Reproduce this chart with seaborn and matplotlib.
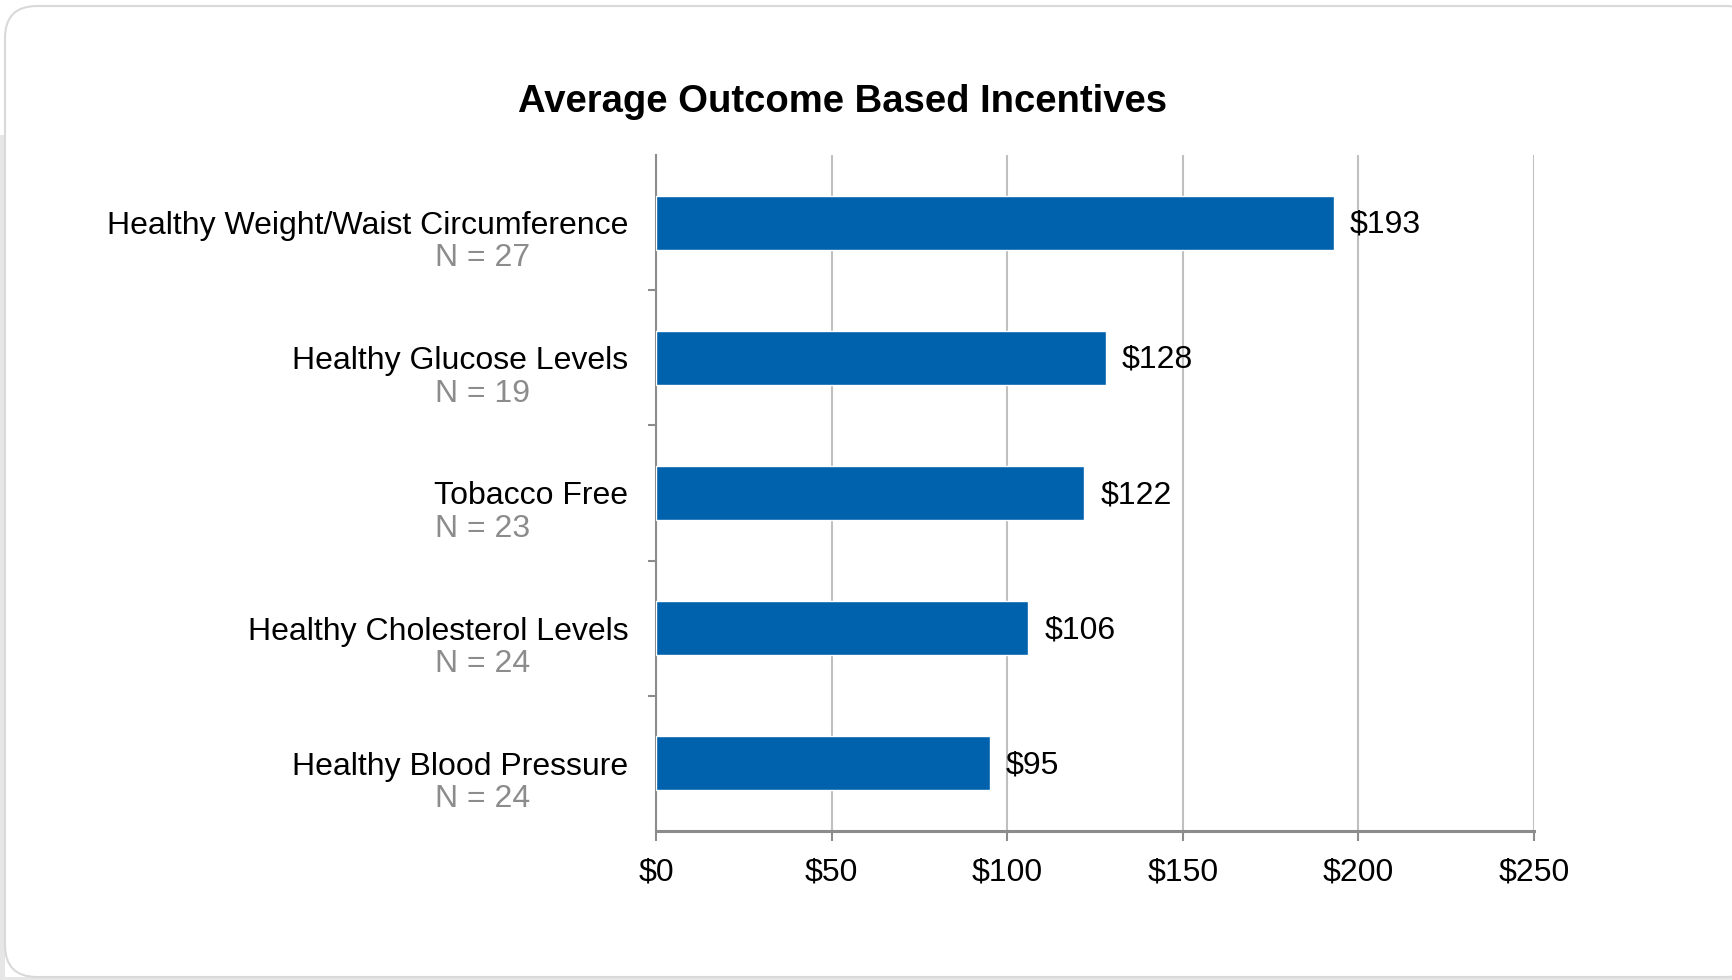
import matplotlib
matplotlib.use("Agg")
import matplotlib.pyplot as plt
from matplotlib.patches import FancyBboxPatch, Rectangle
from matplotlib.transforms import blended_transform_factory
import seaborn as sns
import pandas as pd

# Chart data
categories = [
    "Healthy Weight/Waist Circumference",
    "Healthy Glucose Levels",
    "Tobacco Free",
    "Healthy Cholesterol Levels",
    "Healthy Blood Pressure",
]
sample_sizes = [27, 19, 23, 24, 24]
incentives = [193, 128, 122, 106, 95]
x_ticks = [0, 50, 100, 150, 200, 250]
x_tick_labels = ["$0", "$50", "$100", "$150", "$200", "$250"]
title = "Average Outcome Based Incentives"

df = pd.DataFrame({"category": categories, "incentive": incentives})

sns.set_theme(style="white")
plt.rcParams["font.family"] = ["Liberation Sans", "DejaVu Sans"]

W, H = 1733, 980
fig = plt.figure(figsize=(W / 100, H / 100), dpi=100)
fig.patch.set_facecolor("white")

# Card frame with its grey surroundings
fig.patches.append(Rectangle((0, 0), 5 / W, (H - 135) / H, transform=fig.transFigure,
                             facecolor="#e6e6e6", edgecolor="none", zorder=0))
fig.patches.append(Rectangle((0, 0), 1, 3 / H, transform=fig.transFigure,
                             facecolor="#e6e6e6", edgecolor="none", zorder=0))
fig.patches.append(FancyBboxPatch((5, 3), W + 20, H - 9,
                                  boxstyle="round,pad=0,rounding_size=32",
                                  transform=None, facecolor="white",
                                  edgecolor="#d9d9d9", linewidth=1.5, zorder=1))

left, right, top, bottom = 656, 1534, 155, 831
ax = fig.add_axes([left / W, 1 - bottom / H, (right - left) / W, (bottom - top) / H])
ax.set_facecolor("none")
ax.set_zorder(2)

sns.barplot(data=df, y="category", x="incentive", orient="h", color="#0062ad",
            width=0.40, saturation=1, ax=ax, zorder=3)

ax.set_xlim(0, 250)
ax.set_ylim(4.5, -0.5)
ax.set_xlabel("")
ax.set_ylabel("")

# Gridlines and axes styling
ax.set_xticks(x_ticks)
ax.set_xticklabels(x_tick_labels, fontsize=23, color="black")
ax.xaxis.grid(True, color="#c0c0c0", linewidth=1.5, zorder=0)
ax.set_axisbelow(True)
for s in ("top", "right"):
    ax.spines[s].set_visible(False)
ax.spines["left"].set_color("#8c8c8c")
ax.spines["left"].set_linewidth(1.5)
ax.spines["bottom"].set_color("#8c8c8c")
ax.spines["bottom"].set_linewidth(2.2)
ax.tick_params(axis="x", direction="out", length=7, width=1.5, color="#8c8c8c", pad=12,
               bottom=True)

ax.set_yticks(range(len(categories)))
ax.set_yticklabels(categories, fontsize=23, color="black")
ax.tick_params(axis="y", which="major", length=0, pad=20)
ax.set_yticks([i + 0.5 for i in range(len(categories) - 1)], minor=True)
ax.tick_params(axis="y", which="minor", direction="out", length=6, width=1.5,
               color="#8c8c8c", left=True)

# Sample-size lines under each category
trans = blended_transform_factory(ax.transAxes, ax.transData)
n_x = (483 - left) / (right - left)
for i, n in enumerate(sample_sizes):
    ax.text(n_x, i + 0.265, f"N = {n}", transform=trans, ha="center", va="center",
            fontsize=23, color="#8c8c8c", clip_on=False)

# Value labels
for i, v in enumerate(incentives):
    ax.annotate(f"${v}", xy=(v, i), xytext=(11.5, -1.5), textcoords="offset points",
                ha="left", va="center", fontsize=23, color="black", zorder=4)

fig.text(843 / W, 1 - 102 / H, title, ha="center", va="center", fontsize=27.5,
         fontweight="bold", color="black")

fig.savefig("out.png", dpi=100, facecolor=fig.get_facecolor())
